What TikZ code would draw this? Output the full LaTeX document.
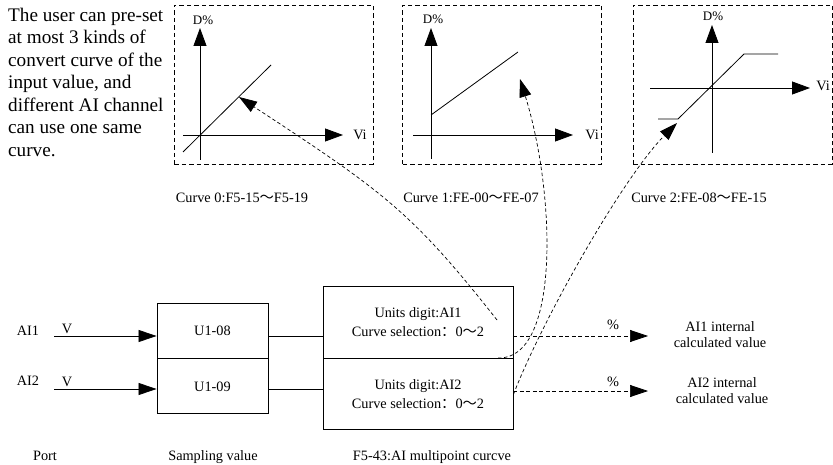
\documentclass[tikz,border=0pt]{standalone}
\usepackage{fontspec}
\setmainfont{Liberation Serif}
\newfontfamily\cjk{Noto Sans CJK SC}
\usetikzlibrary{arrows.meta,positioning,calc}
\tikzset{frame/.style={draw,dash pattern=on 4.5pt off 3pt,line width=0.9pt,minimum width=199pt,minimum height=159pt,inner sep=0pt},blk/.style={draw,line width=0.9pt,inner sep=0pt,align=center,font=\fontsize{14.3}{19}\selectfont},lbl/.style={inner sep=0pt,anchor=base,font=\fontsize{14.3}{16}\selectfont},axis/.style={-{Triangle[length=18pt,width=13pt]},line width=0.8pt},flow/.style={-{Triangle[length=18pt,width=12pt]},line width=0.8pt},link/.style={-{Triangle[length=18pt,width=12pt]},dash pattern=on 3.5pt off 2.5pt,line width=0.7pt}}

\begin{document}
\begin{tikzpicture}[x=1pt,y=-1pt]
\useasboundingbox (0,0) rectangle (833,465);
\node[anchor=north west,inner sep=0pt,align=left,font=\fontsize{19.2}{22.5}\selectfont] (note) at (8,7.6) {The user can pre-set\\at most 3 kinds of\\convert curve of the\\input value, and\\different AI channel\\can use one same\\curve.};
\node[frame] (g0) at (273.5,84.5) {};
\node[frame] (g1) at (502,84.5) {};
\node[frame] (g2) at (732.5,84.5) {};
\draw[axis](200,160)--(200,28);\draw[axis](183,135)--(343,135);\draw[line width=0.8pt](183,152)--(271,65);
\draw[axis](431,159)--(431,28);\draw[axis](413,135)--(573,135);\draw[line width=0.8pt](431,115)--(518,52);
\draw[axis](712,153)--(712,25);\draw[axis](650,88)--(810,88);\draw[line width=0.8pt](658,119)--(678,119)--(744,54)--(778,54);
\node[lbl,font=\fontsize{13}{15}\selectfont] (d0) at (203,24.5) {D\%};
\node[lbl,font=\fontsize{13}{15}\selectfont] (d1) at (433,23.5) {D\%};
\node[lbl,font=\fontsize{13}{15}\selectfont] (d2) at (713,20.5) {D\%};
\node[lbl] (x0) at (360,140) {Vi};
\node[lbl] (x1) at (592,140) {Vi};
\node[lbl] (x2) at (823,91) {Vi};
\node[lbl] (k0) at (242,203) {Curve 0:F5-15{\cjk ～}F5-19};
\node[lbl] (k1) at (471,203) {Curve 1:FE-00{\cjk ～}FE-07};
\node[lbl] (k2) at (699,203) {Curve 2:FE-08{\cjk ～}FE-15};
\node[blk,minimum width=111pt,minimum height=55pt] (s1) at (212.5,330.5) {U1-08};
\node[blk,minimum width=111pt,minimum height=55pt,below=0pt of s1] (s2) {U1-09};
\node[blk,minimum width=190pt,minimum height=72pt] (c1) at (418,322) {Units digit:AI1\\Curve selection{\cjk ：}0{\cjk ～}2};
\node[blk,minimum width=190pt,minimum height=71pt,below=0pt of c1] (c2) {Units digit:AI2\\Curve selection{\cjk ：}0{\cjk ～}2};
\node[lbl] (ai1) at (28,335) {AI1};
\node[lbl] (ai2) at (28,385) {AI2};
\node[lbl] (u1) at (67,334) {V};
\node[lbl] (u2) at (67,386) {V};
\coordinate (v1) at (54,336);\coordinate (v2) at (54,389);
\draw[flow](v1)--(v1-|s1.west);\draw[flow](v2)--(v2-|s2.west);
\draw[line width=0.8pt](s1.east|-v1)--(c1.west|-v1);\draw[line width=0.8pt](s2.east|-v2)--(c2.west|-v2);
\node[lbl,align=center,anchor=center] (o1) at (720,335) {AI1 internal\\calculated value};
\node[lbl,align=center,anchor=center] (o2) at (722,390.5) {AI2 internal\\calculated value};
\coordinate (e1) at (648,336);\coordinate (e2) at (648,391);
\draw[link,dash pattern=on 4pt off 2.5pt](c1.east|-e1)--(e1);\draw[link,dash pattern=on 4pt off 2.5pt](c2.east|-e2)--(e2);
\node[lbl] (pc1) at (613,329) {\%};
\node[lbl] (pc2) at (613,386) {\%};
\coordinate (t0) at (239,97);\coordinate (t1) at (520,79);\coordinate (t2) at (677,123);
\coordinate (q0) at (497,320);\coordinate (q1) at (498,358);
\draw[link](q0) .. controls (412,212) and (384,192) .. (t0);
\draw[link](q1) .. controls (560,360) and (556,195) .. (t1);
\draw[link](c2.east) .. controls (543,318) and (624,176) .. (t2);
\node[lbl] (pt) at (45,460) {Port};
\node[lbl] (sv) at (213,460) {Sampling value};
\node[lbl] (mc) at (432,460) {F5-43:AI multipoint curcve};
\end{tikzpicture}
\end{document}
